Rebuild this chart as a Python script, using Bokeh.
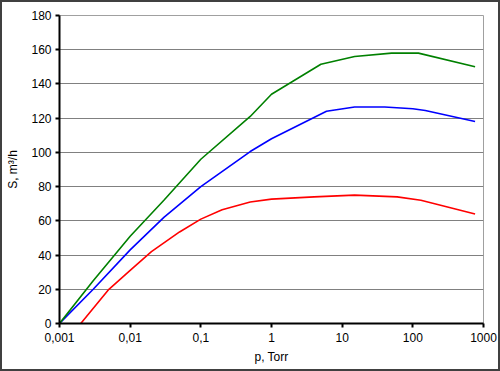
from bokeh.plotting import figure
from bokeh.models import FixedTicker, Range1d
from bokeh.embed import file_html
from bokeh.resources import INLINE

# data (p in Torr, S in m3/h)
red_p = [0.002, 0.005, 0.01, 0.02, 0.05, 0.1, 0.2, 0.5, 1, 4, 15, 60, 130, 760]
red_s = [0, 20, 31, 42, 53.5, 61, 66.5, 71, 72.7, 74, 75, 74, 72, 64]

blue_p = [0.001, 0.003, 0.01, 0.03, 0.1, 0.5, 1, 6, 15, 40, 100, 150, 760]
blue_s = [0, 20, 43, 62, 80, 100.5, 108, 124, 126.5, 126.5, 125.5, 124.5, 118]

green_p = [0.001, 0.003, 0.01, 0.03, 0.1, 0.5, 1, 5, 15, 50, 120, 760]
green_s = [0, 25, 51, 72, 96, 121, 134, 151.5, 156, 158, 158, 150]

x_ticks = [0.001, 0.01, 0.1, 1, 10, 100, 1000]
x_tick_labels = ["0,001", "0,01", "0,1", "1", "10", "100", "1000"]
y_ticks = [0, 20, 40, 60, 80, 100, 120, 140, 160, 180]

FONT = "Liberation Sans"

p = figure(width=500, height=371, x_axis_type="log",
           x_range=Range1d(0.001, 1000), y_range=Range1d(0, 180),
           output_backend="svg", toolbar_location=None,
           min_border_left=57, min_border_right=19, min_border_top=13, min_border_bottom=50)
p.styles = {"border": "2px solid #404040", "box-sizing": "border-box"}

p.line(red_p, red_s, line_color="#ff0000", line_width=1.6)
p.line(blue_p, blue_s, line_color="#0000ff", line_width=1.6)
p.line(green_p, green_s, line_color="#008000", line_width=1.6)

p.outline_line_color = "#a0a0a0"
p.outline_line_width = 1
p.xgrid.grid_line_color = None
p.ygrid.grid_line_color = "#808080"
p.ygrid.grid_line_width = 1

p.xaxis.ticker = FixedTicker(ticks=x_ticks)
p.xaxis.major_label_overrides = {t: l for t, l in zip(x_ticks, x_tick_labels)}
p.yaxis.ticker = FixedTicker(ticks=y_ticks)

for ax in (p.xaxis[0], p.yaxis[0]):
    ax.axis_line_color = "black"
    ax.axis_line_width = 2
    ax.major_tick_line_color = "black"
    ax.major_tick_line_width = 2
    ax.major_tick_in = 0
    ax.major_tick_out = 4
    ax.minor_tick_line_color = None
    ax.major_label_text_font = FONT
    ax.major_label_text_font_size = "12px"
    ax.major_label_text_color = "black"
    ax.axis_label_text_font = FONT
    ax.axis_label_text_font_size = "12px"
    ax.axis_label_text_font_style = "normal"
    ax.axis_label_text_color = "black"

p.xaxis.axis_label = "p, Torr"
p.yaxis.axis_label = "S, m³/h"
p.xaxis.major_label_standoff = 5
p.xaxis.axis_label_standoff = 5
p.yaxis.major_label_standoff = 4
p.yaxis.axis_label_standoff = 8

p.background_fill_color = "white"
p.border_fill_color = "white"

open("out.html", "w").write(file_html(p, INLINE))
